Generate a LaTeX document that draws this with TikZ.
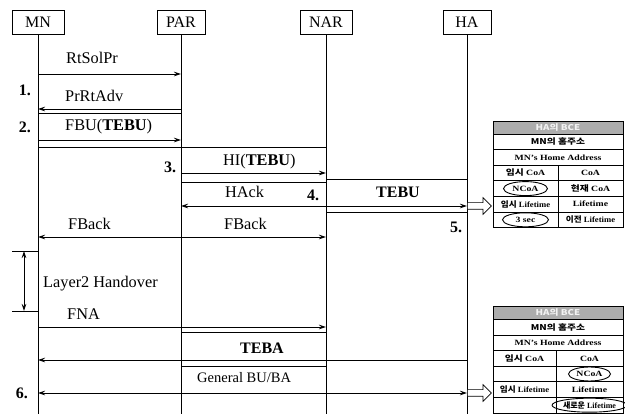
\documentclass[tikz,border=0pt]{standalone}
\usepackage{fontspec}
\setmainfont{Liberation Serif}
\newfontfamily\kr{Noto Sans CJK KR}
\usetikzlibrary{arrows.meta,shapes.geometric,shapes.arrows}
\newcommand\tbw[1]{\scalebox{1.22}[1]{#1}}
\newcommand\tbn[1]{\scalebox{1.08}[1]{#1}}
\begin{document}
\begin{tikzpicture}[x=1pt,y=-1pt,
  actor/.style={draw,line width=0.8pt,minimum height=24pt,inner sep=0pt,font=\fontsize{16}{16}\selectfont},
  life/.style={line width=0.8pt},
  msg/.style={line width=0.8pt,-{Stealth[length=7pt,width=4.5pt]}},
  dmsg/.style={line width=0.8pt,{Stealth[length=7pt,width=4.5pt]}-{Stealth[length=7pt,width=4.5pt]}},
  sepl/.style={line width=0.7pt},
  lbl/.style={anchor=west,inner sep=0pt,font=\fontsize{16.3}{16}\selectfont},
  num/.style={inner sep=0pt,font=\bfseries\fontsize{16}{16}\selectfont},
  tline/.style={line width=0.9pt},
  ttxt/.style={inner sep=0pt,font=\bfseries\fontsize{8}{8}\selectfont},
  oval/.style={ellipse,draw,line width=0.9pt,inner sep=0pt,font=\bfseries\fontsize{8}{8}\selectfont},
  hollow/.style={single arrow,draw,line width=0.7pt,fill=white,inner sep=3pt,minimum height=24pt,single arrow head extend=5pt,anchor=tail}]
\useasboundingbox (0,0) rectangle (625,414);
% actors
\node[actor,minimum width=52pt] (MN) at (38,22) {MN};
\node[actor,minimum width=48pt] (PAR) at (181,22) {PAR};
\node[actor,minimum width=52pt] (NAR) at (326,22) {NAR};
\node[actor,minimum width=48pt] (HA) at (467,22) {HA};
\coordinate (bot) at (0,414);
\foreach \a in {MN,PAR,NAR,HA} {\draw[life] (\a.south) -- (\a |- bot);}
% row levels
\foreach \y in {74,109,113,140,147,173,179,182,206,212,237,251,311,327,332,360,366,393} {\coordinate (y\y) at (0,\y);}
% messages
\node[lbl] (l1) at (66,58) {RtSolPr};
\draw[msg] (MN |- y74) -- (PAR |- y74);
\node[num] (n1) at (25,90) {1.};
\node[lbl] (l2) at (65,96) {PrRtAdv};
\draw[msg] (PAR |- y109) -- (MN |- y109);
\draw[sepl] (MN |- y113) -- (PAR |- y113);
\node[num] (n2) at (25,127) {2.};
\node[lbl] (l3) at (65,127) {FBU(\textbf{TEBU})};
\draw[msg] (MN |- y140) -- (PAR |- y140);
\draw[sepl] (MN |- y147) -- (NAR |- y147);
\node[num] (n3) at (170,167) {3.};
\node[lbl] (l4) at (223,162) {HI(\textbf{TEBU})};
\draw[msg] (PAR |- y173) -- (NAR |- y173);
\draw[sepl] (NAR |- y179) -- (HA |- y179);
\draw[sepl] (PAR |- y182) -- (NAR |- y182);
\node[lbl] (l5) at (225,192) {HAck};
\node[num] (n4) at (313,195) {4.};
\node[inner sep=0pt,font=\bfseries\fontsize{16}{16}\selectfont] (l6) at (398,192) {TEBU};
\draw[msg] (NAR |- y206) -- (PAR |- y206);
\draw[msg] (NAR |- y206) -- (HA |- y206);
\draw[sepl] (NAR |- y212) -- (HA |- y212);
\node[hollow] (h1) at (HA |- y206) {};
\node[num] (n5) at (456,227) {5.};
\node[lbl] (l7) at (68,224) {FBack};
\node[lbl] (l8) at (224,224) {FBack};
\draw[msg] (PAR |- y237) -- (MN |- y237);
\draw[msg] (PAR |- y237) -- (NAR |- y237);
% handover
\coordinate (hl1) at (12,251);
\coordinate (hl2) at (12,311);
\coordinate (hv1) at (24,251);
\coordinate (hv2) at (24,311);
\draw[sepl] (hl1) -- (MN |- y251);
\draw[sepl] (hl2) -- (MN |- y311);
\draw[dmsg] (hv1) -- (hv2);
\node[lbl] (l9) at (43,284) {Layer2 Handover};
\node[lbl] (l10) at (67,314) {FNA};
\draw[msg] (MN |- y327) -- (NAR |- y327);
\draw[sepl] (PAR |- y332) -- (NAR |- y332);
\node[inner sep=0pt,font=\bfseries\fontsize{16}{16}\selectfont] (l11) at (262,348) {TEBA};
\draw[msg] (HA |- y360) -- (MN |- y360);
\draw[sepl] (PAR |- y366) -- (NAR |- y366);
\node[lbl,font=\fontsize{14.5}{15}\selectfont] (l12) at (197,378) {General BU/BA};
\node[num] (n6) at (22,393) {6.};
\draw[dmsg] (MN |- y393) -- (HA |- y393);
\node[hollow] (h2) at (HA |- y393) {};
% table 1
\begin{scope}[shift={(493,121)}]
\fill[gray!65] (0,0) rectangle (130,13);
\draw[tline] (0,0) rectangle (130,106.6);
\foreach \r in {13,28.6,44.2,59.8,75.4,91} {\draw[tline] (0,\r) -- (130,\r);}
\draw[tline] (65,44.2) -- (65,106.6);
\node[ttxt,text=gray!10] (a0) at (65,6.5) {\tbw{\kr HA의 BCE}};
\node[ttxt] (a1) at (65,20.8) {\tbw{\kr MN의 홈주소}};
\node[ttxt] (a2) at (65,36.4) {\tbw{MN's Home Address}};
\node[ttxt] (a3) at (32.5,52) {\tbw{{\kr 임시} CoA}};
\node[ttxt] (a4) at (97.5,52) {\tbw{CoA}};
\node[oval,minimum width=44pt,minimum height=14pt] (a5) at (32.5,67.6) {\tbw{NCoA}};
\node[ttxt] (a6) at (97.5,67.6) {\tbw{{\kr 현재} CoA}};
\node[ttxt] (a7) at (32.5,83.2) {\tbn{{\kr 임시} Lifetime}};
\node[ttxt] (a8) at (97.5,83.2) {\tbw{Lifetime}};
\node[oval,minimum width=46pt,minimum height=14pt] (a9) at (32.5,98.8) {\tbw{3 sec}};
\node[ttxt] (a10) at (97.5,98.8) {\tbn{{\kr 이전} Lifetime}};
\end{scope}
% table 2
\begin{scope}[shift={(493,306.4)}]
\fill[gray!65] (0,0) rectangle (130,13);
\draw[tline] (0,0) rectangle (130,106.6);
\foreach \r in {13,28.6,44.2,59.8,75.4,91} {\draw[tline] (0,\r) -- (130,\r);}
\draw[tline] (63,44.2) -- (63,106.6);
\node[ttxt,text=gray!10] (b0) at (65,6.5) {\tbw{\kr HA의 BCE}};
\node[ttxt] (b1) at (65,20.8) {\tbw{\kr MN의 홈주소}};
\node[ttxt] (b2) at (65,36.4) {\tbw{MN's Home Address}};
\node[ttxt] (b3) at (31.5,52) {\tbw{{\kr 임시} CoA}};
\node[ttxt] (b4) at (96.5,52) {\tbw{CoA}};
\node[oval,minimum width=42pt,minimum height=14pt] (b5) at (96.5,67.6) {\tbw{NCoA}};
\node[ttxt] (b7) at (31.5,83.2) {\tbn{{\kr 임시} Lifetime}};
\node[ttxt] (b8) at (96.5,83.2) {\tbw{Lifetime}};
\node[oval,minimum width=60pt,minimum height=14pt] (b9) at (96.5,98.8) {{\kr 새로운} Lifetime};
\end{scope}
\end{tikzpicture}
\end{document}
